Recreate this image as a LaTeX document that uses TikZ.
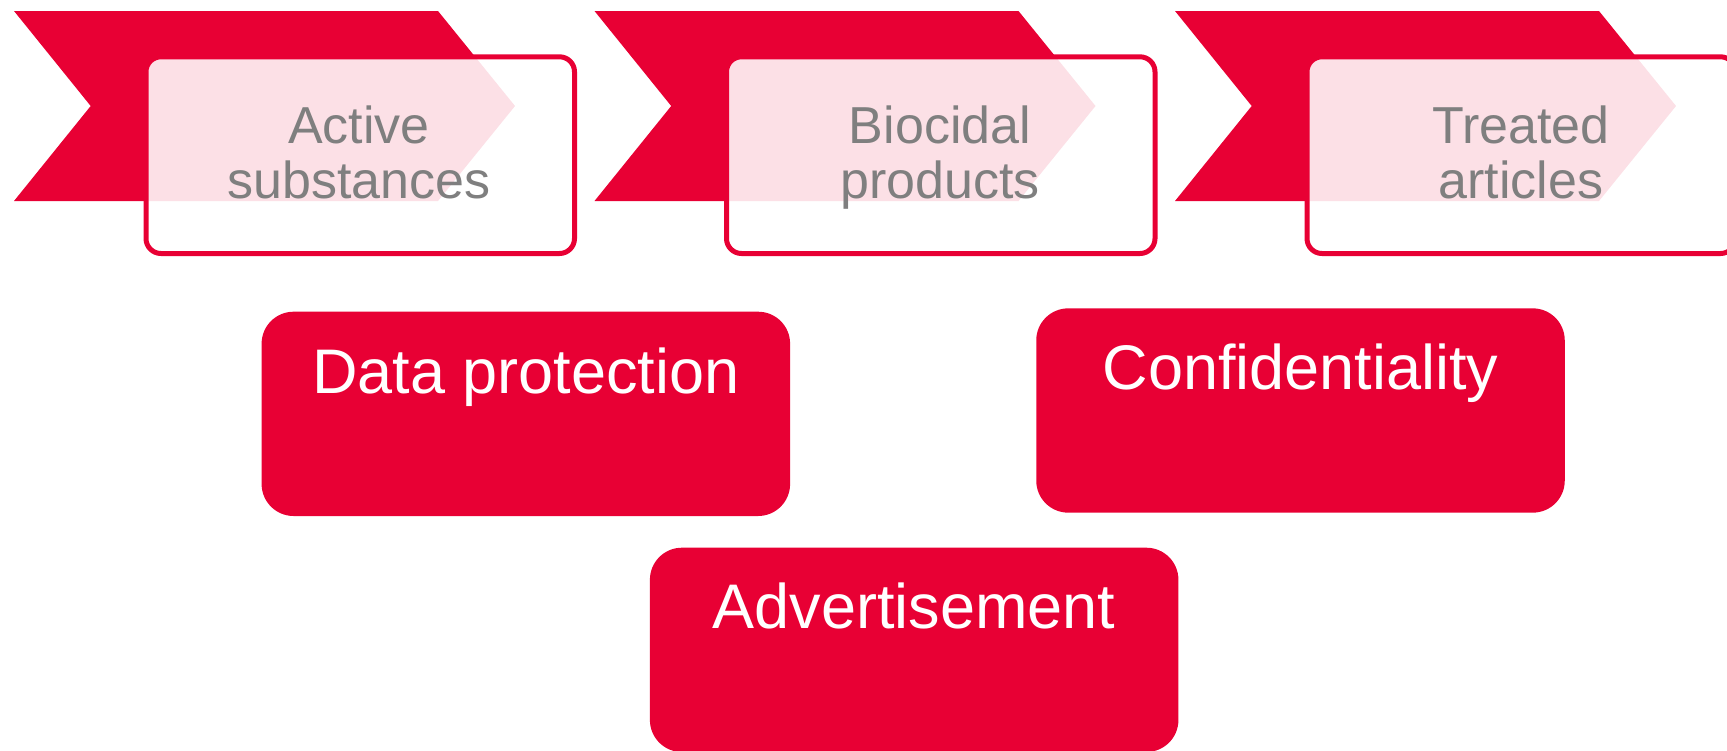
\documentclass[tikz,border=0pt]{standalone}
\usepackage{fontspec}
\setmainfont{Liberation Sans}
\definecolor{brandred}{RGB}{232,0,52}
\definecolor{labelgray}{RGB}{127,127,127}
\begin{document}
\begin{tikzpicture}[x=1pt,y=-1pt,
  chevronshape/.style={fill=brandred, draw=none},
  stagebox/.style={draw=brandred, line width=5pt, fill=white, fill opacity=0.88,
    rounded corners=15pt, minimum width=428.5pt, minimum height=196.7pt, inner sep=0pt},
  stagetext/.style={text=labelgray, font=\fontsize{52}{55}\selectfont, anchor=base, inner sep=0pt},
  topicbox/.style={fill=brandred, draw=none, rounded corners=32pt,
    minimum width=528.5pt, minimum height=204.3pt, inner sep=0pt},
  topictext/.style={text=white, font=\fontsize{63}{70}\selectfont, anchor=base, inner sep=0pt}]
\useasboundingbox (0,0) rectangle (1727,750);

% chevrons
\fill[chevronshape] (14,11) -- ++(424,0) -- ++(77,95) -- ++(-77,95) -- ++(-424,0) -- ++(76.7,-95) -- cycle;
\fill[chevronshape] (594.5,11) -- ++(424,0) -- ++(77,95) -- ++(-77,95) -- ++(-424,0) -- ++(76.7,-95) -- cycle;
\fill[chevronshape] (1175,11) -- ++(424,0) -- ++(77,95) -- ++(-77,95) -- ++(-424,0) -- ++(76.7,-95) -- cycle;

% stage boxes
\node[stagebox] (b1) at (360.25,155.15) {};
\node[stagebox] (b2) at (940.75,155.15) {};
\node[stagebox] (b3) at (1521.25,155.15) {};

\node[stagetext] (t1a) at (359,143) {Active};
\node[stagetext] (t1b) at (359,198) {substances};
\node[stagetext] (t2a) at (940,143) {Biocidal};
\node[stagetext] (t2b) at (940,198) {products};
\node[stagetext] (t3a) at (1521,143) {Treated};
\node[stagetext] (t3b) at (1521,198) {articles};

% topic boxes
\node[topicbox] (dp) at (525.85,413.85) {};
\node[topicbox] (cf) at (1300.5,410.5) {};
\node[topicbox] (ad) at (914.15,649.85) {};

\node[topictext] (dpt) at ([yshift=-81.6pt]dp.north) {Data protection};
\node[topictext] (cft) at ([yshift=-81.6pt]cf.north) {Confidentiality};
\node[topictext] (adt) at ([yshift=-81.4pt]ad.north) {Advertisement};
\end{tikzpicture}
\end{document}
